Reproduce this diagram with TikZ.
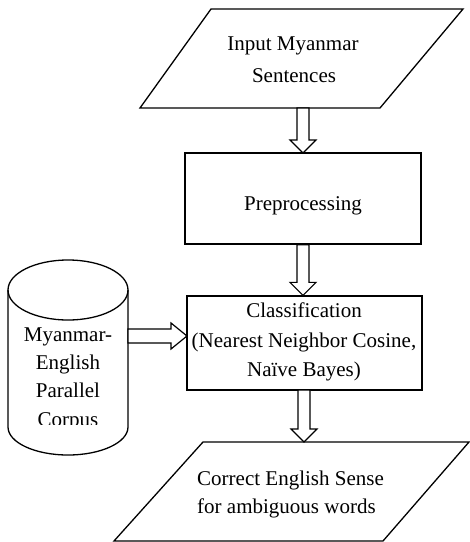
\documentclass[tikz,border=0pt]{standalone}
\usepackage{fontspec}
\setmainfont{Liberation Serif}
\usetikzlibrary{calc}
\tikzset{
  shapeline/.style={draw=black, line width=1.3pt, line join=miter},
  arrowline/.style={draw=black, fill=white, line width=1.2pt, line join=miter},
  txt/.style={anchor=base, inner sep=0pt, font=\fontsize{21}{28}\selectfont},
}
\newcommand{\vblock}[2]{%
  \draw[arrowline] let \p1=(#1), \p2=(#2) in
    (\x1-6pt,\y1) -- (\x1-6pt,\y2+13pt) -- (\x1-13pt,\y2+13pt) -- (\x1,\y2)
    -- (\x1+13pt,\y2+13pt) -- (\x1+6pt,\y2+13pt) -- (\x1+6pt,\y1) -- cycle;}
\newcommand{\hblock}[2]{%
  \draw[arrowline] let \p1=(#1), \p2=(#2) in
    (\x1,\y1+7pt) -- (\x2-16pt,\y1+7pt) -- (\x2-16pt,\y1+13pt) -- (\x2,\y1)
    -- (\x2-16pt,\y1-13pt) -- (\x2-16pt,\y1-7pt) -- (\x1,\y1-7pt) -- cycle;}
\begin{document}
\begin{tikzpicture}[x=1pt,y=-1pt]
\useasboundingbox (0,0) rectangle (470,542);
% input parallelogram
\draw[shapeline] (140,108) -- (211,9) -- (463,9) -- (380,108) -- cycle;
\node[txt] (in1) at (293,50) {Input Myanmar};
\node[txt] (in2) at (294,82) {Sentences};
% preprocessing
\node[shapeline, minimum width=236pt, minimum height=91pt, inner sep=0pt] (prep) at (303,198.5) {};
\node[txt] (preptxt) at (303,210) {Preprocessing};
% classification
\node[shapeline, minimum width=235pt, minimum height=94pt, inner sep=0pt] (cls) at (304.5,343) {};
\node[txt] (c1) at (304,317) {Classification};
\node[txt] (c2) at (304,347) {(Nearest Neighbor Cosine,};
\node[txt] (c3) at (304,376) {Naïve Bayes)};
% output parallelogram
\draw[shapeline] (114,541) -- (203,442) -- (469,442) -- (383,541) -- cycle;
\node[txt, anchor=base west] (o1) at (197,485) {Correct English Sense};
\node[txt, anchor=base west] (o2) at (197,513) {for ambiguous words};
% cylinder
\draw[shapeline] (8,290) -- (8,427) arc[start angle=180, end angle=0, x radius=60, y radius=28] -- (128,290);
\draw[shapeline] (68,290) ellipse[x radius=60, y radius=30];
\begin{scope}
  \clip (8,250) rectangle (128,424);
  \node[txt] (d1) at (68,341) {Myanmar-};
  \node[txt] (d2) at (68,369) {English};
  \node[txt] (d3) at (68,397) {Parallel};
  \node[txt] (d4) at (68,426) {Corpus};
\end{scope}
% connector anchors
\coordinate (a1s) at (303,108);
\coordinate (a1e) at (303,153);
\coordinate (a3s) at (304,390);
\coordinate (a3e) at (304,442);
\coordinate (cylr) at (128,336);
\coordinate (clsl) at (187,336);
\vblock{a1s}{a1e}
\vblock{prep.south}{cls.north}
\vblock{a3s}{a3e}
\hblock{cylr}{clsl}
\end{tikzpicture}
\end{document}
